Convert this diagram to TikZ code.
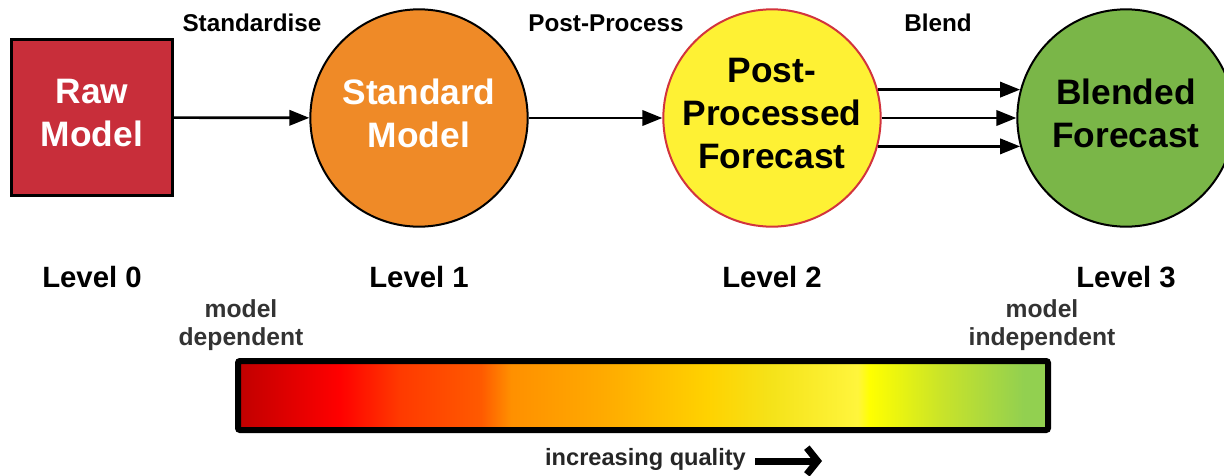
\documentclass[tikz,border=0pt]{standalone}
\usepackage{fontspec}
\setmainfont{Liberation Sans}
\usetikzlibrary{arrows.meta,positioning,calc}

\definecolor{rawred}{HTML}{C82E3A}
\definecolor{stdorange}{HTML}{EF8A27}
\definecolor{ppyellow}{HTML}{FEF134}
\definecolor{ppborder}{HTML}{D2343D}
\definecolor{blendgreen}{HTML}{7AB648}
% stops of the quality ramp, dark red to green
\definecolor{qa}{HTML}{C00000}
\definecolor{qb}{HTML}{FF0000}
\definecolor{qc}{HTML}{FF3A00}
\definecolor{qd}{HTML}{FF5A00}
\definecolor{qe}{HTML}{FF9000}
\definecolor{qf}{HTML}{FFAA00}
\definecolor{qg}{HTML}{FFD200}
\definecolor{qh}{HTML}{F5E31A}
\definecolor{qi}{HTML}{FFF53C}
\definecolor{qj}{HTML}{FFFF00}
\definecolor{qk}{HTML}{C8E32A}
\definecolor{ql}{HTML}{92D050}
\pgfdeclarehorizontalshading{qualityramp}{100bp}{%
  color(0bp)=(qa); color(25bp)=(qa); color(31.25bp)=(qb); color(35bp)=(qc);
  color(40bp)=(qd); color(41.85bp)=(qe); color(47.5bp)=(qf); color(54bp)=(qg);
  color(58bp)=(qh); color(63.25bp)=(qi); color(64bp)=(qj); color(68.5bp)=(qk);
  color(73.5bp)=(ql); color(75bp)=(ql); color(100bp)=(ql)}

\begin{document}
\begin{tikzpicture}[
  x=0.75pt, y=-0.75pt,
  % the extra depth at the end lifts the text a little in its shape
  rawbox/.style={draw, line width=2.25pt, fill=rawred, text=white, align=center,
                 minimum width=120.75pt, minimum height=117pt, inner sep=0pt,
                 font=\fontsize{26.5}{32.25}\selectfont\bfseries,
                 execute at end node={\rule[-7.5pt]{0pt}{0pt}}},
  stage/.style={draw, line width=1.5pt, circle, minimum size=163pt, inner sep=0pt,
                align=center, font=\fontsize{26.5}{32.25}\selectfont\bfseries,
                execute at end node={\rule[-7.5pt]{0pt}{0pt}}},
  actlabel/.style={anchor=base, inner sep=0pt, font=\fontsize{18.2}{22}\selectfont\bfseries},
  level/.style={anchor=base, inner sep=0pt, font=\fontsize{22}{26}\selectfont\bfseries},
  endnote/.style={align=center, inner sep=0pt, text=black!80,
                  font=\fontsize{18.5}{21}\selectfont\bfseries},
  qbar/.style={draw, line width=4.5pt, rounded corners=1.5pt, shading=qualityramp,
               minimum width=607.5pt, minimum height=51.75pt, inner sep=0pt},
  arr/.style={-{Triangle[length=15pt, width=11.5pt]}, line width=2pt},
  qarr/.style={-{Straight Barb[length=8pt, width=20pt]}, line width=5.25pt}
]
  \useasboundingbox (0,0) rectangle (1224,475);

  % the four stages
  \node[rawbox] (raw) at (92,117.5) {Raw\\Model};
  \node[stage, fill=stdorange, text=white] (std) at (419,118) {Standard\\Model};
  \node[stage, fill=ppyellow, draw=ppborder] (post) at (772,118) {Post-\\Processed\\Forecast};
  \node[stage, fill=blendgreen] (blend) at (1126,118) {Blended\\Forecast};

  % processing steps between the stages
  \draw[arr] (raw) -- (std);
  \draw[arr] (std) -- (post);
  \draw[arr] (post.15) -- (blend.165);
  \draw[arr] (post) -- (blend);
  \draw[arr] (post.-15) -- (blend.-165);

  \node[actlabel] (lblstd) at (252,31) {Standardise};
  \node[actlabel] (lblpost) at (606,31) {Post-Process};
  \node[actlabel] (lblblend) at (938,31) {Blend};

  % level numbers under each stage
  \coordinate (lvl) at (0,287);
  \node[level] (lvl0) at (raw |- lvl) {Level 0};
  \node[level] (lvl1) at (std |- lvl) {Level 1};
  \node[level] (lvl2) at (post |- lvl) {Level 2};
  \node[level] (lvl3) at (blend |- lvl) {Level 3};

  % quality scale
  \node[endnote] (dep) at (241,325) {model\\dependent};
  \node[endnote] (indep) at (1042,325) {model\\independent};
  \node[qbar] (bar) at (643,395.5) {};
  \node[actlabel, font=\fontsize{17.7}{21}\selectfont\bfseries, text=black!85]
        (quality) at (645.5,465) {increasing quality};
  \coordinate (qtip) at (822,461);
  \draw[qarr] ([xshift=6.75pt]quality.east |- qtip) -- (qtip);
\end{tikzpicture}
\end{document}
